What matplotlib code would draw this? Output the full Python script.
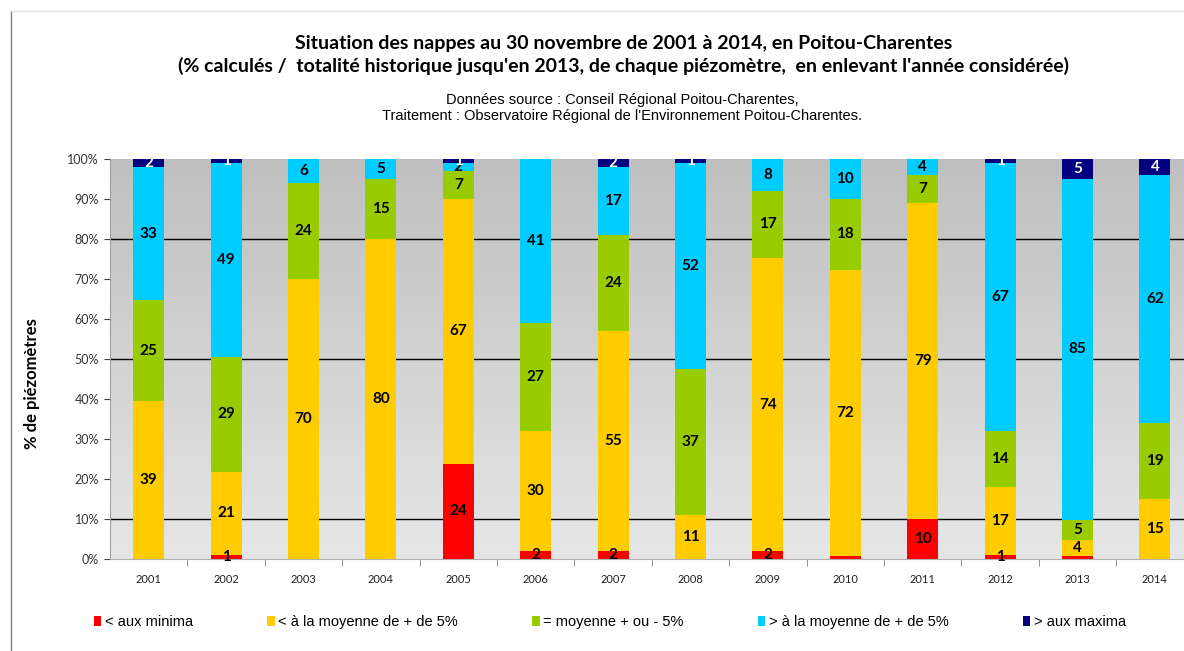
import numpy as np
import matplotlib
matplotlib.use("Agg")
import matplotlib.pyplot as plt
from matplotlib.colors import LinearSegmentedColormap
from matplotlib.lines import Line2D
from matplotlib.patches import Patch

# Years and the five classes (values in % of piezometers, as labelled)
YEARS = ["2001", "2002", "2003", "2004", "2005", "2006", "2007",
         "2008", "2009", "2010", "2011", "2012", "2013", "2014"]
CLASSES = ["< aux minima",
           "< à la moyenne de + de 5%",
           "= moyenne + ou - 5%",
           "> à la moyenne de + de 5%",
           "> aux maxima"]
COLORS = ["#ff0000", "#ffcc00", "#99cc00", "#00ccff", "#000080"]

minima = [0, 1, 0, 0, 24, 2, 2, 0, 2, 0.8, 10, 1, 0.8, 0]
below = [39, 21, 70, 80, 67, 30, 55, 11, 74, 72, 79, 17, 4, 15]
average = [25, 29, 24, 15, 7, 27, 24, 37, 17, 18, 7, 14, 5, 19]
above = [33, 49, 6, 5, 2, 41, 17, 52, 8, 10, 4, 67, 85, 62]
maxima = [2, 1, 0, 0, 1, 0, 2, 1, 0, 0, 0, 1, 5, 4]

SERIES = [minima, below, average, above, maxima]

TITLE = ("Situation des nappes au 30 novembre de 2001 à 2014, en Poitou-Charentes\n"
         "(% calculés /  totalité historique jusqu'en 2013, de chaque piézomètre,  "
         "en enlevant l'année considérée)")
SOURCE = ("Données source : Conseil Régional Poitou-Charentes,\n"
          "Traitement : Observatoire Régional de l'Environnement Poitou-Charentes.")

W, H = 1184, 651
CALIBRI = ["Lato", "DejaVu Sans"]
ARIAL = ["Liberation Sans", "DejaVu Sans"]


def main():
    fig = plt.figure(figsize=(W / 100, H / 100), dpi=100)
    fig.patch.set_facecolor("white")

    # chart area border (left and top edge visible)
    fig.add_artist(Line2D([11 / W, 11 / W], [0, 1 - 11 / H], color="#808080", lw=1))
    fig.add_artist(Line2D([11 / W, 1], [1 - 11 / H, 1 - 11 / H], color="#e0e0e0", lw=1))

    ax = fig.add_axes([110 / W, 92 / H, 1083.6 / W, 400 / H])

    data = np.array(SERIES, dtype=float)
    pct = data / data.sum(axis=0) * 100
    x = np.arange(len(YEARS))

    # gradient plot background
    cmap = LinearSegmentedColormap.from_list("bg", ["#e6e6e6", "#bfbfbf"])
    grad = np.linspace(0, 1, 256).reshape(-1, 1)
    ax.imshow(grad, extent=[-0.5, len(YEARS) - 0.5, 0, 100], origin="lower",
              aspect="auto", cmap=cmap, zorder=0)

    for level in [10, 50, 80]:
        ax.axhline(level, color="black", lw=1, zorder=1)

    bottom = np.zeros(len(YEARS))
    for i, (vals, p) in enumerate(zip(data, pct)):
        ax.bar(x, p, 0.40, bottom=bottom, color=COLORS[i], zorder=2)
        txt_color = "white" if i == 4 else "black"
        for xi, v, b, h in zip(x, vals, bottom, p):
            if v >= 1:
                ax.text(xi, b + h / 2, f"{v:.0f}", ha="center", va="center",
                        fontsize=11, fontweight="bold", color=txt_color,
                        family=CALIBRI, zorder=3)
        bottom += p

    ax.set_xlim(-0.5, len(YEARS) - 0.5)
    ax.set_ylim(0, 100)
    ax.set_yticks(np.arange(0, 101, 10))
    ax.set_yticklabels([f"{t}%" for t in range(0, 101, 10)])
    ax.set_xticks(x)
    ax.set_xticklabels(YEARS)
    ax.set_xticks(np.arange(0.5, len(YEARS) - 0.5, 1), minor=True)
    ax.tick_params(axis="x", which="major", length=0, pad=11, labelsize=8,
                   labelcolor="#222222")
    ax.tick_params(axis="x", which="minor", length=5, color="#808080")
    ax.tick_params(axis="y", length=4, color="#404040", pad=4, labelsize=9,
                   labelcolor="#333333")
    for lab in ax.get_xticklabels() + ax.get_yticklabels():
        lab.set_family(CALIBRI)
    for side in ["top", "right"]:
        ax.spines[side].set_visible(False)
    ax.spines["left"].set_color("#a0a0a0")
    ax.spines["bottom"].set_color("#b0b0b0")

    fig.text(32 / W, 1 - 384 / H, "% de piézomètres", rotation=90,
             ha="center", va="center", fontsize=12, fontweight="bold",
             family=CALIBRI)

    fig.text(624 / W, 1 - 55 / H, TITLE, ha="center", va="center",
             fontsize=14, fontweight="bold", linespacing=1.34,
             family=CALIBRI)
    fig.text(622 / W, 1 - 108 / H, SOURCE, ha="center", va="center",
             fontsize=10.5, linespacing=1.17, family=ARIAL)

    handles = [Patch(facecolor=c, edgecolor="none") for c in COLORS]
    fig.legend(handles, CLASSES, loc="center", bbox_to_anchor=(610 / W, 1 - 622 / H),
               ncol=5, frameon=False, handlelength=0.5, handleheight=0.7,
               handletextpad=0.25, columnspacing=5.1,
               prop={"family": ARIAL, "size": 10.5})

    fig.savefig("out.png", dpi=100)


if __name__ == "__main__":
    main()
